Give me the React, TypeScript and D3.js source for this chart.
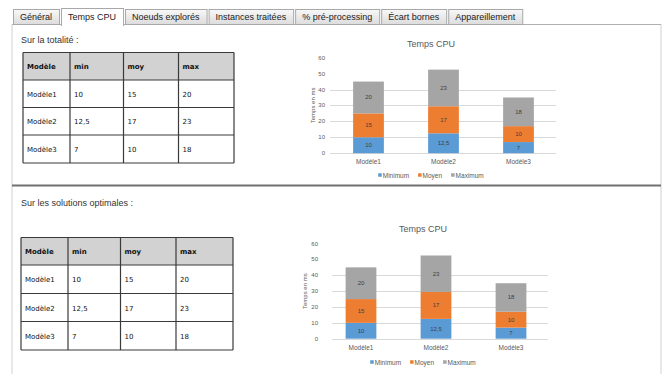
import { useEffect, useRef } from 'react';
import * as d3 from 'd3';

// tabs of the page
const tabLabels = ['Général', 'Temps CPU', 'Noeuds explorés', 'Instances traitées', '% pré-processing', 'Écart bornes', 'Appareillement'];
const activeTab = 'Temps CPU';

// data
const models = ['Modèle1', 'Modèle2', 'Modèle3'];
const minValues = [10, 12.5, 7];
const moyValues = [15, 17, 10];
const maxValues = [20, 23, 18];
const seriesKeys = ['min', 'moy', 'max'];
const seriesNames = ['Minimum', 'Moyen', 'Maximum'];
const seriesColors = ['#5b9bd5', '#ed7d31', '#a5a5a5'];
const tableHeaders = ['Modèle', 'min', 'moy', 'max'];
const yTicks = [0, 10, 20, 30, 40, 50, 60];
const gridTicks = [0, 10, 20, 30, 40];
const sectionTitles = ['Sur la totalité :', 'Sur les solutions optimales :'];
const chartTitle = 'Temps CPU';
const yAxisTitle = 'Temps en ms';

const fmt = (v: number) => String(v).replace('.', ',');
const uiFont = '"Liberation Sans", Arial, sans-serif';
const tableFont = '"DejaVu Sans", sans-serif';

// layout of the two blocks (table + chart)
const sections = [
  {
    titleY: 43,
    table: { cols: [23, 70, 123.5, 178.5, 234], rows: [52.5, 80, 107.5, 135, 163] },
    chart: { band: [331, 556], grid: [330, 556], y: [153.2, 57.7], tickX: 325, centerX: 431, titleY: 47, axisTitleX: 313, catY: 164, legendY: 175 },
  },
  {
    titleY: 206,
    table: { cols: [21, 68, 120.5, 176, 233], rows: [237.5, 265, 293.5, 321.5, 350] },
    chart: { band: [323.5, 548.5], grid: [332, 548], y: [338.7, 243.6], tickX: 318, centerX: 423, titleY: 232, axisTitleX: 305, catY: 350, legendY: 362 },
  },
];

const W = 667;
const H = 374;

const App = () => {
  const svgRef = useRef<SVGSVGElement>(null);

  useEffect(() => {
    const svg = d3.select(svgRef.current).attr('width', W).attr('height', H);
    svg.selectAll('*').remove();

    svg.append('rect').attr('width', W).attr('height', H).attr('fill', '#fff');

    const defs = svg.append('defs');
    const grad = defs.append('linearGradient').attr('id', 'tabGrad').attr('x1', 0).attr('x2', 0).attr('y1', 0).attr('y2', 1);
    grad.append('stop').attr('offset', '0%').attr('stop-color', '#f8f8f8');
    grad.append('stop').attr('offset', '100%').attr('stop-color', '#dcdcdc');

    // panel borders
    const panelLeft = 12;
    const panelRight = 661;
    const panelTop = 24.5;
    svg.append('line').attr('x1', panelLeft).attr('x2', panelLeft).attr('y1', panelTop).attr('y2', H)
      .attr('stroke', '#d0d0d0');
    svg.append('line').attr('x1', panelRight).attr('x2', panelRight).attr('y1', panelTop).attr('y2', H)
      .attr('stroke', '#d0d0d0');
    svg.append('line').attr('x1', panelLeft).attr('x2', panelRight).attr('y1', panelTop).attr('y2', panelTop)
      .attr('stroke', '#b0b0b0');
    // separator between the two blocks
    svg.append('line').attr('x1', panelLeft).attr('x2', panelRight).attr('y1', 185.5).attr('y2', 185.5)
      .attr('stroke', '#707070').attr('stroke-width', 2);

    // tabs
    const tabsG = svg.append('g');
    let cursor = 13;
    tabLabels.forEach((label) => {
      const active = label === activeTab;
      const g = tabsG.append('g');
      const txt = g.append('text')
        .text(label)
        .attr('y', 20)
        .style('font-family', uiFont)
        .style('font-size', '9px')
        .style('fill', '#222');
      const len = (txt.node() as SVGTextElement).getComputedTextLength();
      const w = len + 14;
      txt.attr('x', cursor + 7);
      g.insert('rect', 'text')
        .attr('x', cursor + 0.5)
        .attr('y', active ? 8.5 : 9.5)
        .attr('width', w)
        .attr('height', active ? 17 : 15)
        .attr('fill', active ? '#fff' : 'url(#tabGrad)')
        .attr('stroke', '#a8a8a8');
      if (active) {
        g.append('line').attr('x1', cursor + 1).attr('x2', cursor + w).attr('y1', panelTop + 0.5).attr('y2', panelTop + 0.5)
          .attr('stroke', '#fff').attr('stroke-width', 2);
      }
      cursor += w + 2;
    });

    const rows = models.map((m, i) => ({ model: m, min: minValues[i], moy: moyValues[i], max: maxValues[i] }));
    const stacked = d3.stack<any>().keys(seriesKeys)(rows);

    sections.forEach((sec, si) => {
      // section title
      svg.append('text')
        .text(sectionTitles[si])
        .attr('x', 21)
        .attr('y', sec.titleY)
        .style('font-family', uiFont)
        .style('font-size', '9px')
        .style('fill', '#333');

      // table
      const t = sec.table;
      const tg = svg.append('g');
      tg.append('rect')
        .attr('x', t.cols[0]).attr('y', t.rows[0])
        .attr('width', t.cols[t.cols.length - 1] - t.cols[0])
        .attr('height', t.rows[1] - t.rows[0])
        .attr('fill', '#d2d2d2');
      t.rows.forEach((y) => {
        tg.append('line').attr('x1', t.cols[0]).attr('x2', t.cols[t.cols.length - 1]).attr('y1', y).attr('y2', y)
          .attr('stroke', '#3a3a3a').attr('stroke-width', 1.2);
      });
      t.cols.forEach((x) => {
        tg.append('line').attr('x1', x).attr('x2', x).attr('y1', t.rows[0]).attr('y2', t.rows[t.rows.length - 1])
          .attr('stroke', '#3a3a3a').attr('stroke-width', 1.2);
      });
      const cells = [tableHeaders, ...rows.map((r) => [r.model, fmt(r.min), fmt(r.moy), fmt(r.max)])];
      cells.forEach((row, ri) => {
        row.forEach((val, ci) => {
          tg.append('text')
            .text(val)
            .attr('x', t.cols[ci] + 4)
            .attr('y', (t.rows[ri] + t.rows[ri + 1]) / 2 + 1)
            .attr('dominant-baseline', 'central')
            .style('font-family', tableFont)
            .style('font-size', '7px')
            .style('font-weight', ri === 0 ? 'bold' : 'normal')
            .style('fill', '#111');
        });
      });

      // chart
      const c = sec.chart;
      const cg = svg.append('g');
      const x = d3.scaleBand().domain(models).range(c.band as [number, number]).paddingInner(0.59).paddingOuter(0.295);
      const y = d3.scaleLinear().domain([0, 60]).range(c.y as [number, number]);

      cg.selectAll('.grid')
        .data(gridTicks)
        .enter()
        .append('line')
        .attr('x1', c.grid[0]).attr('x2', c.grid[1])
        .attr('y1', (d) => Math.round(y(d)) + 0.5).attr('y2', (d) => Math.round(y(d)) + 0.5)
        .attr('stroke', '#d9d9d9');

      cg.selectAll('.tick')
        .data(yTicks)
        .enter()
        .append('text')
        .text((d) => d)
        .attr('x', c.tickX)
        .attr('y', (d) => y(d))
        .attr('dominant-baseline', 'central')
        .attr('text-anchor', 'end')
        .style('font-family', uiFont)
        .style('font-size', '6px')
        .style('fill', '#595959');

      stacked.forEach((layer, li) => {
        cg.selectAll(`.seg-${li}`)
          .data(layer)
          .enter()
          .append('rect')
          .attr('x', (d: any) => x(d.data.model)!)
          .attr('y', (d) => y(d[1]))
          .attr('width', x.bandwidth())
          .attr('height', (d) => y(d[0]) - y(d[1]))
          .attr('fill', seriesColors[li]);
        cg.selectAll(`.lab-${li}`)
          .data(layer)
          .enter()
          .append('text')
          .text((d: any) => fmt(d.data[seriesKeys[li]]))
          .attr('x', (d: any) => x(d.data.model)! + x.bandwidth() / 2)
          .attr('y', (d) => (y(d[0]) + y(d[1])) / 2)
          .attr('text-anchor', 'middle')
          .attr('dominant-baseline', 'central')
          .style('font-family', uiFont)
          .style('font-size', '6px')
          .style('fill', '#404040');
      });

      // title
      cg.append('text')
        .text(chartTitle)
        .attr('x', c.centerX)
        .attr('y', c.titleY)
        .attr('text-anchor', 'middle')
        .style('font-family', uiFont)
        .style('font-size', '9px')
        .style('fill', '#595959');

      // y axis title
      cg.append('text')
        .text(yAxisTitle)
        .attr('transform', `translate(${c.axisTitleX}, ${(c.y[0] + c.y[1]) / 2}) rotate(-90)`)
        .attr('text-anchor', 'middle')
        .attr('dominant-baseline', 'central')
        .style('font-family', uiFont)
        .style('font-size', '6px')
        .style('fill', '#595959');

      // categories
      cg.selectAll('.cat')
        .data(models)
        .enter()
        .append('text')
        .text((d) => d)
        .attr('x', (d) => x(d)! + x.bandwidth() / 2)
        .attr('y', c.catY)
        .attr('text-anchor', 'middle')
        .style('font-family', uiFont)
        .style('font-size', '6.5px')
        .style('fill', '#595959');

      // legend
      const lg = cg.append('g');
      let lx = 0;
      seriesNames.forEach((name, i) => {
        lg.append('rect')
          .attr('x', lx).attr('y', c.legendY - 1.75)
          .attr('width', 3.5).attr('height', 3.5)
          .attr('fill', seriesColors[i]);
        const lt = lg.append('text')
          .text(name)
          .attr('x', lx + 4.5)
          .attr('y', c.legendY)
          .attr('dominant-baseline', 'central')
          .style('font-family', uiFont)
          .style('font-size', '6.5px')
          .style('fill', '#595959');
        lx += 4.5 + (lt.node() as SVGTextElement).getComputedTextLength() + 9;
      });
      lx -= 9;
      lg.attr('transform', `translate(${c.centerX - lx / 2}, 0)`);
    });
  }, []);

  return <svg ref={svgRef} style={{ position: 'absolute', left: 0, top: 0, display: 'block' }} />;
};

export default App;
